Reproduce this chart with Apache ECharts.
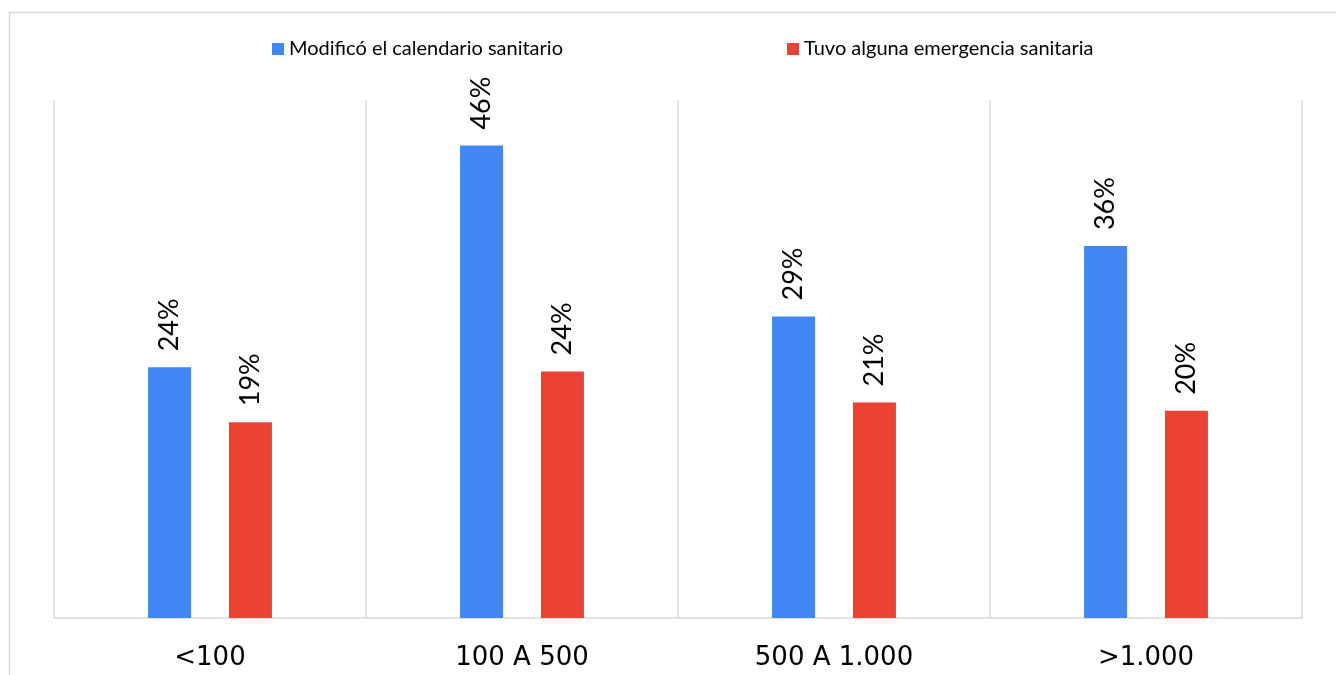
<!DOCTYPE html>
<html>
<head>
<meta charset="utf-8">
<script src="https://cdn.jsdelivr.net/npm/echarts@6/dist/echarts.min.js"></script>
<style>
html,body{margin:0;padding:0;background:#fff;}
#chart{width:1336px;height:675px;}
</style>
</head>
<body>
<div id="chart"></div>
<script>
var categories = ['<100', '100 A 500', '500 A 1.000', '>1.000'];
var seriesNames = ['Modificó el calendario sanitario', 'Tuvo alguna emergencia sanitaria'];
var modifico = [24.2, 45.6, 29.1, 35.9];
var emergencia = [18.9, 23.8, 20.8, 20.0];

var chart = echarts.init(document.getElementById('chart'), null, {renderer: 'canvas'});
var labelCfg = {
  show: true,
  position: 'top',
  rotate: 90,
  align: 'left',
  verticalAlign: 'middle',
  distance: 16,
  fontFamily: 'Lato',
  fontSize: 27,
  color: '#000',
  formatter: function (p) { return Math.round(p.value) + '%'; }
};
chart.setOption({
  animation: false,
  backgroundColor: '#fff',
  graphic: [{
    type: 'rect',
    shape: {x: 9.5, y: 12.5, width: 1340, height: 700},
    style: {fill: 'none', stroke: '#d9d9d9', lineWidth: 1.5},
    silent: true
  }],
  legend: [{
    data: [seriesNames[0]],
    left: 267, top: 34,
    itemWidth: 12, itemHeight: 12, itemGap: 6,
    icon: 'rect',
    textStyle: {fontFamily: 'Lato', fontSize: 20, color: '#000'}
  }, {
    data: [seriesNames[1]],
    left: 782, top: 34,
    itemWidth: 12, itemHeight: 12, itemGap: 6,
    icon: 'rect',
    textStyle: {fontFamily: 'Lato', fontSize: 20, color: '#000'}
  }],
  grid: {left: 54, right: 34, top: 100, bottom: 57},
  xAxis: {
    type: 'category',
    data: categories,
    boundaryGap: true,
    axisLine: {show: true, lineStyle: {color: '#d9d9d9', width: 1.5}},
    axisTick: {show: false},
    splitLine: {show: true, lineStyle: {color: '#d9d9d9', width: 1.5}},
    axisLabel: {fontFamily: 'DejaVu Sans', fontSize: 26, color: '#000', margin: 27}
  },
  yAxis: {
    type: 'value', min: 0, max: 50,
    show: false,
    splitLine: {show: false}
  },
  series: [{
    name: seriesNames[0], type: 'bar', data: modifico,
    barWidth: 43, barGap: '88%',
    itemStyle: {color: '#4285F4'},
    label: labelCfg
  }, {
    name: seriesNames[1], type: 'bar', data: emergencia,
    barWidth: 43,
    itemStyle: {color: '#EA4335'},
    label: labelCfg
  }]
});
</script>
</body>
</html>
